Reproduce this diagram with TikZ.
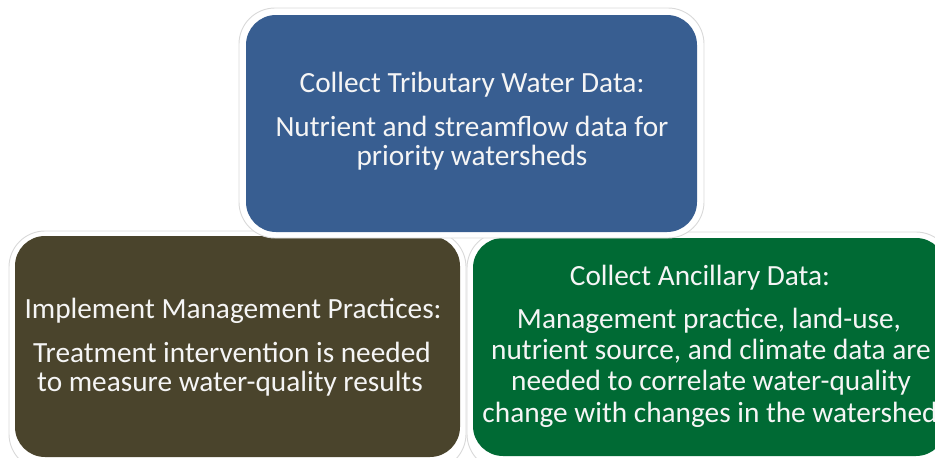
\documentclass[tikz,border=0pt]{standalone}
\usepackage{fontspec}
\setmainfont{Carlito}
\definecolor{boxblue}{RGB}{56,94,145}
\definecolor{boxbrown}{RGB}{74,68,44}
\definecolor{boxgreen}{RGB}{0,106,52}
\definecolor{txt}{RGB}{245,245,245}
\begin{document}
\begin{tikzpicture}[x=1pt,y=-1pt,
  ring/.style={draw=black!15,line width=0.9pt,fill=white,rounded corners=36pt},
  panel/.style={rounded corners=30pt},
  lbl/.style={text=txt,font=\fontsize{29.3}{35}\selectfont,anchor=base,inner sep=0pt}]
\useasboundingbox (0,0) rectangle (935,458);
\begin{scope}
\clip (0,0) rectangle (935,458);
% bottom-left panel
\draw[ring] (9,231) rectangle (466,470);
\fill[boxbrown,panel] (15,236) rectangle (460,457);
% bottom-right panel
\draw[ring] (467,232) rectangle (952,470);
\fill[boxgreen,panel] (473,238) rectangle (946,456);
% top panel
\draw[ring] (239,8) rectangle (704,238);
\fill[boxblue,panel] (246,15) rectangle (697,232);
\end{scope}
% top texts
\node[lbl] (t0) at (472,92) {Collect Tributary Water Data:};
\node[lbl] (t1) at (472,136) {Nutrient and streamflow data for};
\node[lbl] (t2) at (472,165) {priority watersheds};
% brown texts
\node[lbl] (b0) at (233,318) {Implement Management Practices:};
\node[lbl] (b1) at (232,362) {Treatment intervention is needed};
\node[lbl] (b2) at (230,391) {to measure water-quality results};
% green texts
\node[lbl] (g0) at (700,285) {Collect Ancillary Data:};
\node[lbl] (g1) at (709,328) {Management practice, land-use,};
\node[lbl] (g2) at (711,359) {nutrient source, and climate data are};
\node[lbl] (g3) at (711,390) {needed to correlate water-quality};
\node[lbl] (g4) at (710,422) {change with changes in the watershed};
\end{tikzpicture}
\end{document}
